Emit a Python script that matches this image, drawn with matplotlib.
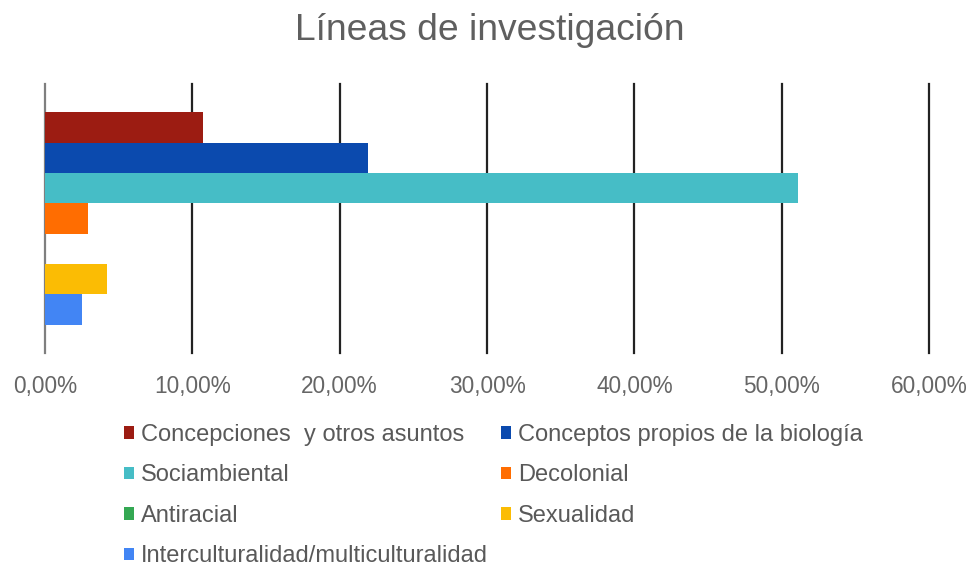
import matplotlib
matplotlib.use("Agg")
import matplotlib.pyplot as plt
from matplotlib.patches import Patch
from matplotlib.ticker import FuncFormatter, MultipleLocator

plt.rcParams['font.family'] = ['Liberation Sans', 'DejaVu Sans']

title = "Líneas de investigación"
series = ["Concepciones  y otros asuntos", "Conceptos propios de la biología",
          "Sociambiental", "Decolonial", "Antiracial", "Sexualidad",
          "Interculturalidad/multiculturalidad"]
values = [10.7, 21.9, 51.1, 2.9, 0.0, 4.2, 2.5]
colors = ["#9C1C12", "#0B4AAE", "#46BDC6", "#FF6D01", "#34A853", "#FBBC04", "#4285F4"]
xticks = [0, 10, 20, 30, 40, 50, 60]

fig = plt.figure(figsize=(9.71, 5.70), dpi=100)
ax = fig.add_axes([45/971, 1-353/570, (929-45)/971, (353-84)/570])

n = len(series)
group = 0.79
h = group / n
for i, (s, v, c) in enumerate(zip(series, values, colors)):
    y = -group/2 + h*(i + 0.5)
    ax.barh(y, v, height=h, color=c, zorder=3, edgecolor='none')

ax.set_ylim(0.5, -0.5)
ax.set_xlim(0, 60)
ax.xaxis.set_major_locator(MultipleLocator(10))
ax.xaxis.set_major_formatter(FuncFormatter(lambda v, p: f"{v:.2f}%".replace('.', ',')))
ax.set_yticks([])
for sp in ax.spines.values():
    sp.set_visible(False)
for xv in xticks:
    ax.axvline(xv, color='#7f7f7f' if xv == 0 else '#222222', lw=1.6, zorder=1, clip_on=False)
ax.tick_params(axis='x', length=0, pad=16, labelsize=16.3, labelcolor='#666666')

fig.text(490/971, 1-31/570, title, ha='center', va='center', fontsize=26.8, color='#5f5f5f')

handles = [Patch(facecolor=c, edgecolor='none') for c in colors]
order = [0, 2, 4, 6, 1, 3, 5]
leg = fig.legend([handles[i] for i in order], [series[i] for i in order],
                 ncol=2, loc='upper left', bbox_to_anchor=(124/971, 1-424/570),
                 frameon=False, fontsize=17, handlelength=0.42, handleheight=0.42,
                 handletextpad=0.3, columnspacing=0.55, labelspacing=0.78,
                 borderaxespad=0, borderpad=0)
for t in leg.get_texts():
    t.set_color('#595959')

fig.savefig("out.png", dpi=100)
